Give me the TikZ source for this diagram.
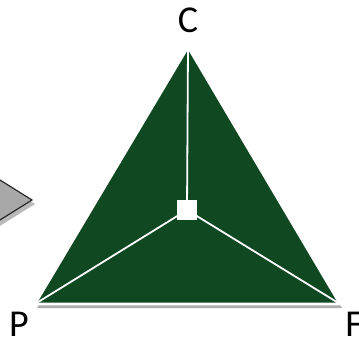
\documentclass[tikz,border=0pt]{standalone}
\usepackage{fontspec}
\setmainfont{Carlito}
\usetikzlibrary{shadows}
\definecolor{tridark}{RGB}{16,72,34}
\definecolor{arrowgray}{RGB}{168,168,168}
\definecolor{edgedark}{RGB}{40,40,40}
\tikzset{
  vlabel/.style={font=\fontsize{38}{38}\selectfont, text=black, inner sep=0pt,
    text depth=0pt, anchor=base},
  spoke/.style={white, line width=1.8pt},
  hub/.style={rectangle, fill=white, minimum size=20pt, inner sep=0pt},
  tri/.style={fill=tridark, draw=white, line width=2.6pt, line join=miter,
    drop shadow={shadow xshift=2pt, shadow yshift=-4pt, fill=black!55, opacity=0.6}},
  pointer/.style={fill=arrowgray, draw=edgedark, line width=1.2pt, line join=miter,
    drop shadow={shadow xshift=3pt, shadow yshift=-4pt, fill=black!55, opacity=0.5}}
}

\begin{document}
\begin{tikzpicture}[x=1pt, y=-1pt]
  \useasboundingbox (0,0) rectangle (359,343);

  % Corners and centre
  \coordinate (vC) at (188,47);
  \coordinate (vP) at (35,304);
  \coordinate (vF) at (340,304);
  \coordinate (ctr) at (187,210);

  % Grey pointer cut by the left edge
  \fill[pointer] (-40,155) -- (32,200) -- (-40,245) -- cycle;

  % Triangle
  \path[tri] (vC) -- (vP) -- (vF) -- cycle;

  % Spokes to the centre
  \draw[spoke] (vC) -- (ctr);
  \draw[spoke] (vP) -- (ctr);
  \draw[spoke] (vF) -- (ctr);
  \node[hub] (sq) at (ctr) {};

  % Corner labels
  \node[vlabel] (lC) at (188,32) {C};
  \node[vlabel] (lP) at (19,336) {P};
  \node[vlabel] (lF) at (354,336) {F};
\end{tikzpicture}
\end{document}
